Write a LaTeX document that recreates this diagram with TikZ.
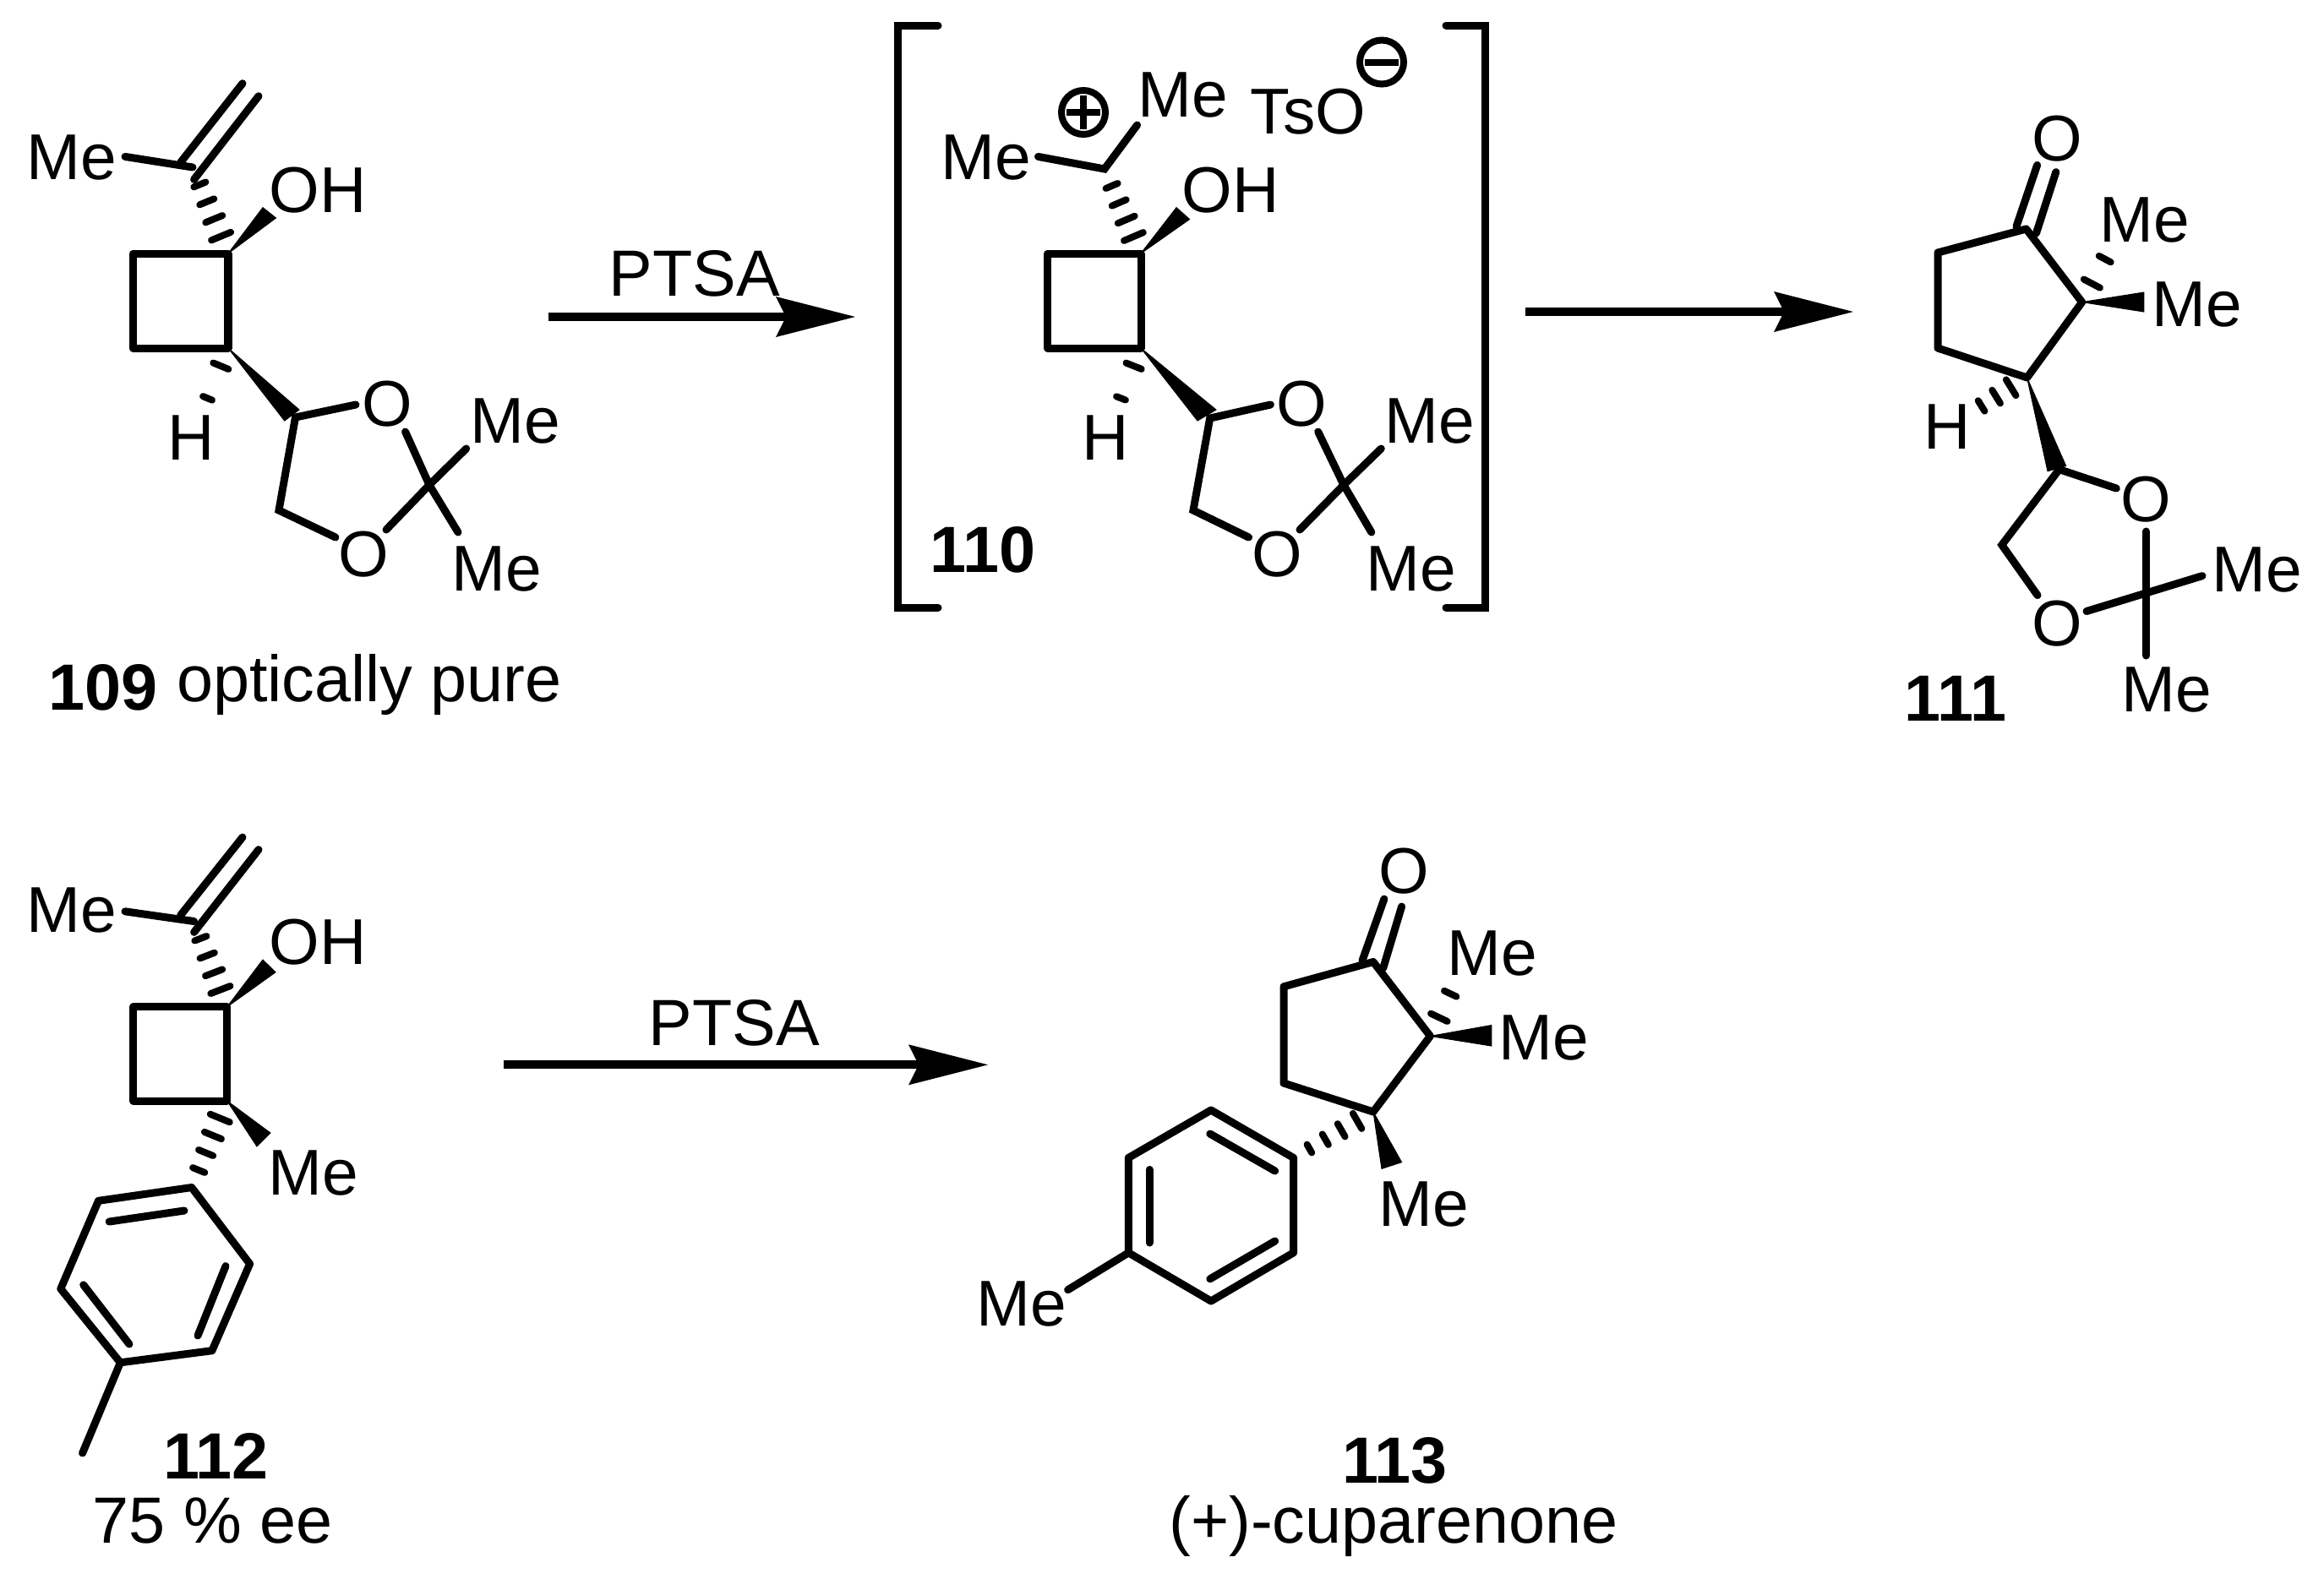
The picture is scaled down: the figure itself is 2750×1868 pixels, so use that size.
\documentclass[tikz,border=0pt]{standalone}
\usepackage{fontspec}
\setmainfont{Liberation Sans}
\usetikzlibrary{calc}
\tikzset{
  bond/.style={line width=0.09cm,line cap=round,line join=miter,black},
  ringbond/.style={line width=0.09cm,line cap=round,line join=round,black},
  hashbar/.style={line width=0.08cm,line cap=round,black},
  wedgefill/.style={fill=black,draw=black,line width=0.01cm,line join=miter},
  straight/.style={line width=0.1cm,black},
  charge/.style={line width=0.08cm,black},
  atom/.style={inner sep=0pt,outer sep=0pt,font=\fontsize{21.8}{24}\selectfont},
  lab/.style={inner sep=0pt,outer sep=0pt,anchor=base,font=\fontsize{22}{24}\selectfont},
  blab/.style={inner sep=0pt,outer sep=0pt,anchor=base,font=\fontsize{22}{24}\selectfont\bfseries}
}
\newcommand{\hashbond}[5]{\foreach \hpos in {#3}{%
  \pgfmathsetmacro{\hhw}{(#4+(#5-#4)*\hpos)*0.01}%
  \coordinate (hp) at ($(#1)!\hpos!(#2)$);
  \draw[hashbar] ($(hp)!\hhw cm!90:(#2)$) -- ($(hp)!\hhw cm!-90:(#2)$);}}
\newcommand{\wedgebond}[3]{\fill[wedgefill] (#1) -- (#2) -- (#3) -- cycle;}
\newcommand{\headarrow}[3]{% start, tip, name prefix: horizontal arrow with notched head
  \coordinate (#3n) at ($(#2)+(-82,0)$);
  \draw[straight] (#1) -- (#3n);
  \fill[black] (#2) -- ($(#2)+(-94,-24)$) -- (#3n) -- ($(#2)+(-94,24)$) -- cycle;}
\begin{document}
\begin{tikzpicture}[x=0.01cm,y=-0.01cm]
\useasboundingbox[fill=white] (0,0) rectangle (2750,1868);

%% ---------- 109 ----------
\coordinate (aV) at (228,198); \coordinate (aV1) at (213.6,192.3); \coordinate (aV1e) at (287,98.7);
\coordinate (aV2) at (229.6,212.4); \coordinate (aV2e) at (306,113.7); \coordinate (aMeE) at (148,185.4);
\coordinate (aR1) at (157.5,300); \coordinate (aR2) at (270,300); \coordinate (aR3) at (270,412); \coordinate (aR4) at (157.5,412);
\coordinate (aOw1) at (311,245.7); \coordinate (aOw2) at (326.5,258);
\coordinate (aCw1) at (336.7,498); \coordinate (aCw2) at (354,485);
\coordinate (aC) at (349.5,494); \coordinate (aCO1) at (421,479); \coordinate (aCH) at (330,604); \coordinate (aCO2) at (397,636);
\coordinate (aO1s) at (479.6,511); \coordinate (aQ) at (508,574); \coordinate (aMe2e) at (542,630);
\coordinate (aO2s) at (457,627); \coordinate (aMe1e) at (551.7,531);
\node[atom] (aMe) at (85,186.6) {Me};
\node[atom] (aOH) at (376,225) {OH};
\node[atom] (aH) at (226.4,518) {H};
\node[atom] (aO1) at (458,477.6) {O};
\node[atom] (aO2) at (430.5,656) {O};
\node[atom] (aMe1) at (610,498) {Me};
\node[atom] (aMe2) at (588,673.4) {Me};
\draw[bond] (aV1) -- (aV1e); \draw[bond] (aV2) -- (aV2e); \draw[bond] (aMeE) -- (aV);
\draw[ringbond] (aR1) -- (aR2) -- (aR3) -- (aR4) -- cycle;
\hashbond{aR2}{aV}{0.2,0.4,0.6,0.8}{14}{6}
\wedgebond{aR2}{aOw1}{aOw2}
\wedgebond{aR3}{aCw1}{aCw2}
\hashbond{aR3}{aH}{0.2,0.56}{12}{1}
\draw[bond] (aCO1) -- (aC) -- (aCH) -- (aCO2);
\draw[bond] (aO1s) -- (aQ) -- (aMe2e); \draw[bond] (aO2s) -- (aQ) -- (aMe1e);
\node[blab] (aL) at (122,840) {109};
\node[lab,anchor=base west] (aL2) at (209,830) {optically pure};

%% arrow 1
\coordinate (ar1s) at (648.6,375); \coordinate (ar1t) at (1012,375);
\headarrow{ar1s}{ar1t}{ar1}
\node[lab] (ar1L) at (822,350) {PTSA};

%% ---------- 110 ----------
\coordinate (bBL1) at (1110,30); \coordinate (bBL2) at (1062,30); \coordinate (bBL3) at (1062,719); \coordinate (bBL4) at (1110,719);
\coordinate (bBR1) at (1711,30); \coordinate (bBR2) at (1757,30); \coordinate (bBR3) at (1757,719); \coordinate (bBR4) at (1711,719);
\draw[bond] (bBL1) -- (bBL2) -- (bBL3) -- (bBL4);
\draw[bond] (bBR1) -- (bBR2) -- (bBR3) -- (bBR4);
\coordinate (bV) at (1307,200); \coordinate (bMe1e) at (1228.5,185.4); \coordinate (bMe2e) at (1345.6,148);
\coordinate (bR1) at (1239.4,300); \coordinate (bR2) at (1350,300); \coordinate (bR3) at (1350,412); \coordinate (bR4) at (1239.4,412);
\coordinate (bOw1) at (1392,245.7); \coordinate (bOw2) at (1407.6,259.5);
\coordinate (bCw1) at (1417,498); \coordinate (bCw2) at (1439,485);
\coordinate (bC) at (1431.7,495); \coordinate (bCO1) at (1503.4,479); \coordinate (bCH) at (1412,604); \coordinate (bCO2) at (1477.6,636);
\coordinate (bO1s) at (1559.7,511); \coordinate (bQ) at (1590,574); \coordinate (bMe4e) at (1622.8,630);
\coordinate (bO2s) at (1538,627); \coordinate (bMe3e) at (1634.3,531);
\coordinate (bPlus) at (1282,133); \coordinate (bMinus) at (1635,73.5);
\node[atom] (bMe1) at (1166.5,186.6) {Me};
\node[atom] (bMe2) at (1399.5,112) {Me};
\node[atom] (bTs) at (1548,131.6) {TsO};
\node[atom] (bOH) at (1456.4,225) {OH};
\node[atom] (bH) at (1308,518) {H};
\node[atom] (bO1) at (1540.8,477.6) {O};
\node[atom] (bO2) at (1511.5,656) {O};
\node[atom] (bMe3) at (1691.7,498) {Me};
\node[atom] (bMe4) at (1669.4,673.4) {Me};
\draw[bond] (bMe1e) -- (bV) -- (bMe2e);
\draw[ringbond] (bR1) -- (bR2) -- (bR3) -- (bR4) -- cycle;
\hashbond{bR2}{bV}{0.2,0.4,0.6,0.8}{14}{6}
\wedgebond{bR2}{bOw1}{bOw2}
\wedgebond{bR3}{bCw1}{bCw2}
\hashbond{bR3}{bH}{0.2,0.56}{12}{1}
\draw[bond] (bCO1) -- (bC) -- (bCH) -- (bCO2);
\draw[bond] (bO1s) -- (bQ) -- (bMe4e); \draw[bond] (bO2s) -- (bQ) -- (bMe3e);
\draw[charge] (bPlus) circle[radius=26];
\draw[charge] ($(bPlus)+(-20,0)$) -- ($(bPlus)+(20,0)$);
\draw[charge] ($(bPlus)+(0,-20)$) -- ($(bPlus)+(0,20)$);
\draw[charge] (bMinus) circle[radius=26];
\draw[charge] ($(bMinus)+(-20,0)$) -- ($(bMinus)+(20,0)$);
\node[blab] (bL) at (1163,677.4) {110};

%% arrow 2
\coordinate (ar2s) at (1805,369); \coordinate (ar2t) at (2193,369);
\headarrow{ar2s}{ar2t}{ar2}

%% ---------- 111 ----------
\coordinate (cC1) at (2397.6,271); \coordinate (cC2) at (2293,299); \coordinate (cC3) at (2293,412); \coordinate (cC4) at (2398.6,447); \coordinate (cC5) at (2463.7,357.6);
\coordinate (cD1) at (2410.6,195.4); \coordinate (cD1e) at (2386,268); \coordinate (cD2) at (2432.8,203.6); \coordinate (cD2e) at (2409.5,276);
\coordinate (cMw1) at (2536.9,346); \coordinate (cMw2) at (2536.9,369);
\coordinate (cCw1) at (2423,557.7); \coordinate (cCw2) at (2444.7,551.5);
\coordinate (cC) at (2436.6,555.6); \coordinate (cCO1) at (2504.3,578); \coordinate (cCH) at (2368.8,645); \coordinate (cCO2) at (2411,704.6);
\coordinate (cV1) at (2539.6,629); \coordinate (cV2) at (2539.6,776); \coordinate (cH1) at (2469,723.5); \coordinate (cH2) at (2606,681.6);
\coordinate (cHt) at (2516.7,257.6);
\node[atom] (cO) at (2434,163.8) {O};
\node[atom] (cMe1) at (2538,260.7) {Me};
\node[atom] (cMe2) at (2599.7,360) {Me};
\node[atom] (cH) at (2303.8,505.6) {H};
\node[atom] (cO1) at (2539.6,590.8) {O};
\node[atom] (cO2) at (2434,737.8) {O};
\node[atom] (cMe3) at (2670.7,674.5) {Me};
\node[atom] (cMe4) at (2563.4,816) {Me};
\draw[bond] (cD1) -- (cD1e); \draw[bond] (cD2) -- (cD2e);
\draw[ringbond] (cC1) -- (cC2) -- (cC3) -- (cC4) -- (cC5) -- cycle;
\hashbond{cC5}{cHt}{0.22,0.51}{13}{3}
\wedgebond{cC5}{cMw1}{cMw2}
\hashbond{cC4}{cH}{0.2,0.385,0.57}{13}{3}
\wedgebond{cC4}{cCw1}{cCw2}
\draw[bond] (cCO1) -- (cC) -- (cCH) -- (cCO2);
\draw[bond] (cV1) -- (cV2); \draw[bond] (cH1) -- (cH2);
\node[blab] (cL) at (2314,853) {111};

%% ---------- 112 ----------
\coordinate (dV) at (229.6,1090.5); \coordinate (dV1) at (213.5,1083.5); \coordinate (dV1e) at (287,991);
\coordinate (dV2) at (229.6,1103.4); \coordinate (dV2e) at (306,1005.6); \coordinate (dMeE) at (148,1078.8);
\coordinate (dR1) at (157.9,1191.8); \coordinate (dR2) at (268.7,1191.8); \coordinate (dR3) at (268.7,1303); \coordinate (dR4) at (157.9,1303);
\coordinate (dOw1) at (311,1136); \coordinate (dOw2) at (326,1150.8);
\coordinate (dMw1) at (320,1341); \coordinate (dMw2) at (304,1357);
\coordinate (dA1) at (226.8,1405.5); \coordinate (dA2) at (295.6,1496); \coordinate (dA3) at (250.9,1598.7);
\coordinate (dA4) at (142.4,1612.8); \coordinate (dA5) at (71.8,1525.5); \coordinate (dA6) at (116.5,1421.3);
\coordinate (dI1) at (129.2,1446); \coordinate (dI1e) at (218,1433);
\coordinate (dI2) at (267,1498.6); \coordinate (dI2e) at (234,1581);
\coordinate (dI3) at (153,1591); \coordinate (dI3e) at (98.7,1520.8);
\coordinate (dMeth) at (97.6,1720);
\node[atom] (dMe) at (85,1077) {Me};
\node[atom] (dOH) at (376,1115) {OH};
\node[atom] (dMe2) at (370.9,1388) {Me};
\draw[bond] (dV1) -- (dV1e); \draw[bond] (dV2) -- (dV2e); \draw[bond] (dMeE) -- (dV);
\draw[ringbond] (dR1) -- (dR2) -- (dR3) -- (dR4) -- cycle;
\hashbond{dR2}{dV}{0.2,0.4,0.6,0.8}{14}{6}
\wedgebond{dR2}{dOw1}{dOw2}
\wedgebond{dR3}{dMw1}{dMw2}
\hashbond{dR3}{dA1}{0.2,0.4,0.6,0.8}{14}{6}
\draw[ringbond] (dA1) -- (dA2) -- (dA3) -- (dA4) -- (dA5) -- (dA6) -- cycle;
\draw[bond] (dI1) -- (dI1e); \draw[bond] (dI2) -- (dI2e); \draw[bond] (dI3) -- (dI3e);
\draw[bond] (dA4) -- (dMeth);
\node[blab] (dL) at (255.5,1750) {112};
\node[lab] (dL2) at (251.6,1826) {75 \% ee};

%% arrow 3
\coordinate (ar3s) at (596,1260.3); \coordinate (ar3t) at (1169,1260.3);
\headarrow{ar3s}{ar3t}{ar3}
\node[lab] (ar3L) at (869,1237) {PTSA};

%% ---------- 113 ----------
\coordinate (eC1) at (1625,1138.5); \coordinate (eC2) at (1519,1167.8); \coordinate (eC3) at (1519,1282); \coordinate (eC4) at (1625,1316); \coordinate (eC5) at (1692.4,1226.4);
\coordinate (eD1) at (1637.9,1064); \coordinate (eD1e) at (1612,1137); \coordinate (eD2) at (1658.6,1073); \coordinate (eD2e) at (1636.7,1146);
\coordinate (eMw1) at (1764.8,1213.5); \coordinate (eMw2) at (1764.8,1238);
\coordinate (eDw1) at (1635,1383.3); \coordinate (eDw2) at (1658.6,1375.6);
\coordinate (eA1) at (1530.5,1370.4); \coordinate (eA2) at (1530.5,1482.8); \coordinate (eA3) at (1433,1540);
\coordinate (eA4) at (1335.4,1482.8); \coordinate (eA5) at (1335.4,1370.4); \coordinate (eA6) at (1433,1314);
\coordinate (eI1) at (1431.8,1342); \coordinate (eI1e) at (1508.7,1386);
\coordinate (eI2) at (1508.7,1469); \coordinate (eI2e) at (1431.8,1513.8);
\coordinate (eI3) at (1360,1471); \coordinate (eI3e) at (1360,1384.4);
\coordinate (eMeE) at (1263.6,1526.7);
\coordinate (eHt) at (1740,1126);
\node[atom] (eO) at (1660.9,1030.8) {O};
\node[atom] (eMe1) at (1765.9,1128.6) {Me};
\node[atom] (eMe2) at (1826.8,1228.7) {Me};
\node[atom] (eMe3) at (1684.4,1425.5) {Me};
\node[atom] (eMe4) at (1208.5,1543) {Me};
\draw[bond] (eD1) -- (eD1e); \draw[bond] (eD2) -- (eD2e);
\draw[ringbond] (eC1) -- (eC2) -- (eC3) -- (eC4) -- (eC5) -- cycle;
\hashbond{eC5}{eHt}{0.22,0.5}{13}{3}
\wedgebond{eC5}{eMw1}{eMw2}
\wedgebond{eC4}{eDw1}{eDw2}
\hashbond{eC4}{eA1}{0.2,0.4,0.6,0.8}{12}{4}
\draw[ringbond] (eA1) -- (eA2) -- (eA3) -- (eA4) -- (eA5) -- (eA6) -- cycle;
\draw[bond] (eI1) -- (eI1e); \draw[bond] (eI2) -- (eI2e); \draw[bond] (eI3) -- (eI3e);
\draw[bond] (eA4) -- (eMeE);
\node[blab] (eL) at (1650.5,1755) {113};
\node[lab] (eL2) at (1649,1826) {(+)-cuparenone};
\end{tikzpicture}
\end{document}
